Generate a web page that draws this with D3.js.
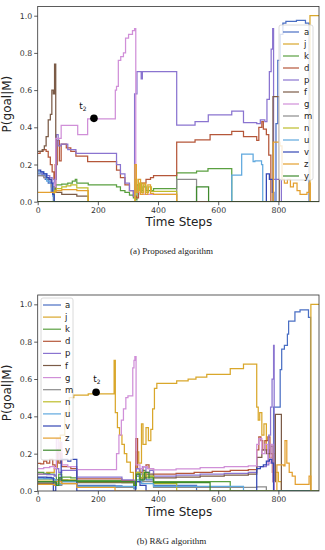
<!DOCTYPE html>
<html>
<head>
<meta charset="utf-8">
<script src="https://cdn.jsdelivr.net/npm/d3@7"></script>
<style>
  body { margin: 0; background: #fff; }
  svg { display: block; font-family: "DejaVu Sans", sans-serif; }
</style>
</head>
<body>
<svg id="chart" width="325" height="550"></svg>
<script>
// goal labels, in legend / draw order
const goals = ['a', 'j', 'k', 'd', 'p', 'f', 'g', 'm', 'n', 'u', 'v', 'z', 'y'];
const colors = ['#4a6fc4', '#d9a72b', '#5aa040', '#b5573a', '#8a74d0', '#7b5b47', '#d08fd8',
                '#8c8c8c', '#bdbd2a', '#5fa8de', '#3447b4', '#e4a030', '#3f8a2e'];
const xTicks = [0, 200, 400, 600, 800];
const yTicks = [0, 0.2, 0.4, 0.6, 0.8, 1.0];

// (a) proposed algorithm, [time step, P(goal|M)] change points
const prop_a = [[0,0.15],[15,0.14],[25,0.12],[35,0.1],[45,0.05],[52,0],[792,0.42],[798,0.76],[806,0.9],[815,0.96],[825,0.97],[860,0.975],[890,0.96],[902,0]];
const prop_j = [[0,0],[905,1.0]];
const prop_k = [[0,0],[52,0],[55,0.07],[60,0.09],[80,0.095],[100,0.1],[115,0.11],[125,0.12],[130,0.1],[168,0.09],[254,0.09],[262,0.08],[275,0.06],[290,0.05],[305,0.035],[318,0.02],[325,0.01],[330,0.09],[340,0.06],[350,0.08],[360,0.06],[385,0.07],[462,0.155],[528,0.165],[566,0.178],[645,0]];
const prop_d = [[0,0.26],[8,0.27],[18,0.28],[28,0.27],[35,0.24],[42,0.2],[48,0.16],[54,0.12],[58,0.2],[65,0.33],[72,0.22],[78,0.31],[95,0.29],[110,0.27],[127,0.245],[166,0.215],[254,0.215],[262,0.17],[275,0.13],[290,0.09],[305,0.06],[318,0.03],[328,0.02],[335,0.07],[345,0.1],[360,0.12],[375,0.13],[385,0.14],[462,0.32],[523,0.333],[573,0.36],[645,0.378],[684,0.35],[728,0.33],[735,0.4],[745,0.43],[750,0.39],[760,0.36],[768,0.25],[775,0]];
const prop_p = [[0,0.16],[15,0.15],[30,0.14],[40,0.13],[48,0.1],[55,0.12],[62,0.36],[68,0.3],[78,0.31],[100,0.28],[127,0.26],[254,0.26],[262,0.2],[275,0.15],[290,0.1],[305,0.06],[318,0.03],[322,0.58],[330,0.7],[344,0.66],[348,0.7],[462,0.412],[523,0.43],[567,0.467],[645,0.487],[684,0.425],[728,0.42],[740,0.44],[755,0.43],[762,0.55],[770,0.7],[776,0.82],[781,0.93],[784,0.12],[810,0]];
const prop_f = [[0,0.27],[15,0.28],[22,0.3],[28,0.35],[35,0.44],[42,0.47],[47,0.6],[52,0.58],[56,0.74],[60,0.05],[80,0.04],[130,0.03],[168,0],[780,0],[782,0.565],[800,0.565],[803,0]];
const prop_g = [[0,0.14],[20,0.13],[40,0.1],[55,0.08],[60,0.34],[78,0.41],[133,0.36],[166,0.445],[254,0.445],[258,0.6],[262,0.62],[268,0.76],[276,0.78],[285,0.8],[292,0.88],[302,0.9],[315,0.92],[322,0.93],[326,0.05],[340,0.04],[460,0.04],[462,0]];
const prop_m = [[0,0.14],[20,0.13],[35,0.12],[45,0.08],[55,0],[462,0.12],[528,0]];
const prop_n = [[0,0],[55,0.06],[62,0.07],[80,0.08],[95,0.085],[110,0.09],[130,0.075],[167,0],[324,0.12],[330,0.06],[338,0.1],[345,0.05],[352,0.09],[360,0.05],[368,0.08],[378,0.055],[462,0]];
const prop_u = [[0,0.16],[20,0.15],[30,0.11],[40,0.1],[50,0.03],[55,0],[645,0.143],[678,0.256],[716,0.215],[722,0.22],[744,0.2],[748,0]];
const prop_v = [[0,0.17],[10,0.16],[20,0.15],[30,0.13],[38,0.12],[45,0.1],[50,0.04],[55,0],[760,0.15],[770,0.12],[780,0.05],[785,0]];
const prop_z = [[0,0.05],[55,0.05],[60,0.06],[80,0.065],[130,0.06],[168,0],[323,0.2],[328,0.05],[335,0.12],[342,0.04],[350,0.1],[358,0.04],[366,0.09],[375,0.045],[385,0.04],[462,0],[783,0.32],[805,0.3],[812,0.12],[820,0.1],[830,0.12],[840,0.08],[850,0.1],[862,0.06],[872,0.04],[895,0.05],[902,0.1],[906,0]];
const prop_y = [[0,0],[528,0.08],[568,0]];

// (b) R&G algorithm
const rg_a = [[0,0.07],[20,0.068],[40,0.065],[55,0.06],[62,0.04],[70,0.07],[80,0.06],[100,0.055],[130,0.03],[257,0.028],[280,0.02],[320,0.015],[328,0.08],[340,0.05],[350,0.09],[360,0.06],[385,0.03],[528,0],[784,0.45],[806,0.65],[811,0.76],[820,0.78],[830,0.84],[834,0.91],[850,0.91],[855,0.96],[872,0.97],[894,0.97],[900,0.93],[907,0]];
const rg_j = [[0,0.09],[30,0.1],[55,0.12],[65,0.2],[75,0.3],[90,0.42],[105,0.5],[120,0.514],[168,0.52],[250,0.52],[254,0.7],[258,0.42],[265,0.34],[272,0.3],[280,0.25],[288,0.2],[296,0.155],[308,0.1],[318,0.05],[327,0.21],[336,0.15],[345,0.36],[350,0.25],[360,0.34],[368,0.27],[376,0.33],[382,0.44],[388,0.55],[396,0.577],[462,0.59],[500,0.6],[526,0.61],[562,0.625],[640,0.655],[684,0.68],[728,0.45],[733,0.38],[738,0.42],[745,0.3],[752,0.36],[760,0.22],[770,0.18],[780,0.2],[790,0.1],[800,0.05],[810,0],[908,1.0]];
const rg_k = [[0,0.1],[20,0.095],[40,0.09],[55,0.085],[62,0.05],[70,0.09],[80,0.075],[110,0.07],[130,0.055],[257,0.055],[280,0.045],[320,0.035],[328,0.1],[338,0.06],[348,0.11],[358,0.07],[370,0.08],[385,0.05],[640,0]];
const rg_d = [[0,0.148],[10,0.145],[20,0.16],[30,0.15],[40,0.17],[50,0.14],[58,0.13],[64,0.22],[70,0.15],[76,0.2],[80,0.13],[110,0.12],[130,0.065],[257,0.065],[280,0.055],[320,0.04],[326,0.28],[332,0.12],[340,0.1],[350,0.13],[360,0.14],[370,0.12],[385,0.09],[460,0.095],[520,0.1],[580,0.105],[640,0.11],[700,0.115],[728,0.22],[735,0.29],[742,0.27],[748,0.22],[755,0.27],[765,0.29],[772,0.2],[780,0.1],[785,0]];
const rg_p = [[0,0.09],[30,0.088],[55,0.08],[62,0.12],[70,0.1],[80,0.11],[130,0.075],[257,0.075],[280,0.06],[320,0.045],[328,0.12],[338,0.09],[348,0.13],[360,0.1],[372,0.11],[385,0.08],[460,0.085],[540,0.09],[620,0.095],[700,0.1],[728,0.13],[760,0.14],[768,0.3],[774,0.45],[779,0.6],[784,0.78],[786,0]];
const rg_f = [[0,0.04],[55,0.038],[62,0.06],[80,0.05],[130,0.045],[257,0.045],[320,0.03],[328,0.09],[340,0.07],[360,0.09],[385,0.07],[460,0.075],[540,0.08],[620,0.085],[700,0.09],[728,0.18],[745,0.22],[760,0.2],[775,0.24],[782,0.05],[790,0.41],[810,0]];
const rg_g = [[0,0.12],[20,0.125],[40,0.13],[55,0.12],[62,0.28],[68,0.17],[74,0.26],[80,0.14],[100,0.13],[130,0.115],[257,0.115],[262,0.2],[270,0.3],[278,0.38],[285,0.44],[293,0.5],[300,0.51],[312,0.51],[316,0.66],[320,0.7],[323,0.72],[327,0.14],[340,0.12],[350,0.13],[365,0.12],[385,0.113],[460,0.118],[540,0.125],[620,0.13],[700,0.135],[728,0.25],[735,0.28],[745,0.2],[755,0.25],[765,0.15],[775,0.25],[782,0.05],[786,0]];
const rg_m = [[0,0.045],[55,0.042],[62,0.03],[80,0.04],[130,0.02],[257,0.02],[320,0.012],[328,0.05],[385,0.02],[728,0.022],[760,0]];
const rg_n = [[0,0.06],[55,0.055],[62,0.04],[80,0.06],[130,0.05],[257,0.05],[320,0.035],[328,0.1],[340,0.07],[350,0.1],[360,0.08],[385,0.04],[462,0]];
const rg_u = [[0,0.065],[55,0.06],[62,0.035],[80,0.05],[130,0.025],[257,0.025],[320,0.015],[328,0.06],[345,0.04],[385,0.025],[684,0]];
const rg_v = [[0,0.075],[30,0.073],[45,0.07],[52,0],[60,0.05],[78,0.17],[100,0.16],[110,0.17],[130,0],[325,0.05],[340,0.03],[360,0],[728,0.12],[740,0.13],[750,0.14],[760,0.16],[770,0.17],[778,0.15],[784,0]];
const rg_z = [[0,0.035],[55,0.03],[62,0.05],[80,0.04],[130,0.02],[257,0],[795,0.14],[818,0.135],[822,0.27],[828,0.15],[836,0.1],[846,0.08],[856,0.035],[896,0.035],[902,0.08],[908,0]];
const rg_y = [[0,0.05],[55,0.048],[62,0.03],[70,0.07],[80,0.055],[130,0.05],[257,0.05],[320,0.03],[328,0.09],[340,0.06],[355,0.1],[370,0.07],[385,0.045],[573,0]];

const propSeries = [prop_a, prop_j, prop_k, prop_d, prop_p, prop_f, prop_g, prop_m, prop_n, prop_u, prop_v, prop_z, prop_y];
const rgSeries = [rg_a, rg_j, rg_k, rg_d, rg_p, rg_f, rg_g, rg_m, rg_n, rg_u, rg_v, rg_z, rg_y];

const svg = d3.select('#chart');

function drawPanel(id, series, box, legend, marker, caption) {
    const x = d3.scaleLinear().domain([0, 935]).range([box.left, box.right]);
    const y = d3.scaleLinear().domain([0, 1.05]).range([box.bottom, box.top]);
    const g = svg.append('g');

    g.append('clipPath').attr('id', 'clip-' + id)
        .append('rect')
        .attr('x', box.left).attr('y', box.top)
        .attr('width', box.right - box.left).attr('height', box.bottom - box.top);

    const line = d3.line()
        .x(d => x(d[0]))
        .y(d => y(d[1]))
        .curve(d3.curveStepAfter);

    const lines = g.append('g').attr('clip-path', `url(#clip-${id})`);
    series.forEach((s, i) => {
        // hold the last value to the right edge
        const pts = s.concat([[935, s[s.length - 1][1]]]);
        lines.append('path')
            .attr('d', line(pts))
            .attr('fill', 'none')
            .attr('stroke', colors[i])
            .attr('stroke-width', 1.25);
    });

    // axes
    const xAxis = g.append('g')
        .attr('transform', `translate(0,${box.bottom})`)
        .call(d3.axisBottom(x).tickValues(xTicks).tickSize(3.5).tickPadding(2).tickFormat(d3.format('d')));
    const yAxis = g.append('g')
        .attr('transform', `translate(${box.left},0)`)
        .call(d3.axisLeft(y).tickValues(yTicks).tickSize(3.5).tickPadding(2).tickFormat(d3.format('.1f')));
    [xAxis, yAxis].forEach(a => {
        a.select('.domain').remove();
        a.selectAll('line').attr('stroke', '#333').attr('stroke-width', 0.8);
        a.selectAll('text').attr('fill', '#333').style('font-size', '7.8px')
            .style('font-family', '"DejaVu Sans", sans-serif');
    });

    g.append('rect')
        .attr('x', box.left).attr('y', box.top)
        .attr('width', box.right - box.left).attr('height', box.bottom - box.top)
        .attr('fill', 'none').attr('stroke', '#333').attr('stroke-width', 0.8);

    // t2 marker
    g.append('circle')
        .attr('cx', x(marker.t)).attr('cy', y(marker.v)).attr('r', 3.8)
        .attr('fill', '#000');
    const lab = g.append('text')
        .attr('x', marker.lx).attr('y', marker.ly)
        .attr('text-anchor', 'middle')
        .style('font-size', '9px').attr('fill', '#111');
    lab.append('tspan').text('t');
    lab.append('tspan').attr('dy', 2).style('font-size', '6px').text('2');

    // legend
    const leg = g.append('g');
    leg.append('rect')
        .attr('x', legend.x).attr('y', legend.y)
        .attr('width', legend.w).attr('height', legend.h)
        .attr('rx', 2)
        .attr('fill', '#fff').attr('fill-opacity', 0.8)
        .attr('stroke', '#d0d0d0').attr('stroke-width', 0.8);
    goals.forEach((name, i) => {
        const yy = legend.first + i * legend.step;
        leg.append('line')
            .attr('x1', legend.x1).attr('x2', legend.x2)
            .attr('y1', yy).attr('y2', yy)
            .attr('stroke', colors[i]).attr('stroke-width', 1.2);
        leg.append('text')
            .attr('x', legend.tx).attr('y', yy + 3)
            .style('font-size', '8.5px').attr('fill', '#222')
            .text(name);
    });

    // axis titles
    g.append('text')
        .attr('x', (box.left + box.right) / 2 + 0.5).attr('y', box.bottom + 24.5)
        .attr('text-anchor', 'middle')
        .style('font-size', '12px').attr('fill', '#222')
        .text('Time Steps');
    g.append('text')
        .attr('transform', `translate(10.5,${(box.top + box.bottom) / 2}) rotate(-90)`)
        .attr('text-anchor', 'middle')
        .style('font-size', '12px').attr('fill', '#222')
        .text('P(goal|M)');

    g.append('text')
        .attr('x', 171.5).attr('y', caption.y)
        .attr('text-anchor', 'middle')
        .style('font-family', '"Liberation Serif", "DejaVu Serif", serif')
        .style('font-size', '9px').attr('fill', '#222')
        .text(caption.text);
}

drawPanel('a', propSeries,
    { left: 37.7, right: 319, top: 6.4, bottom: 201.7 },
    { x: 279, y: 25, w: 34, h: 155, x1: 283, x2: 299, tx: 304, first: 32, step: 12 },
    { t: 187, v: 0.448, lx: 83, ly: 109 },
    { y: 254, text: '(a) Proposed algorithm' });

drawPanel('b', rgSeries,
    { left: 37.7, right: 319, top: 295, bottom: 491 },
    { x: 41, y: 298, w: 32, h: 162, x1: 43, x2: 61, tx: 65, first: 305, step: 12.1 },
    { t: 194, v: 0.529, lx: 97, ly: 382 },
    { y: 544, text: '(b) R&G algorithm' });
</script>
</body>
</html>
